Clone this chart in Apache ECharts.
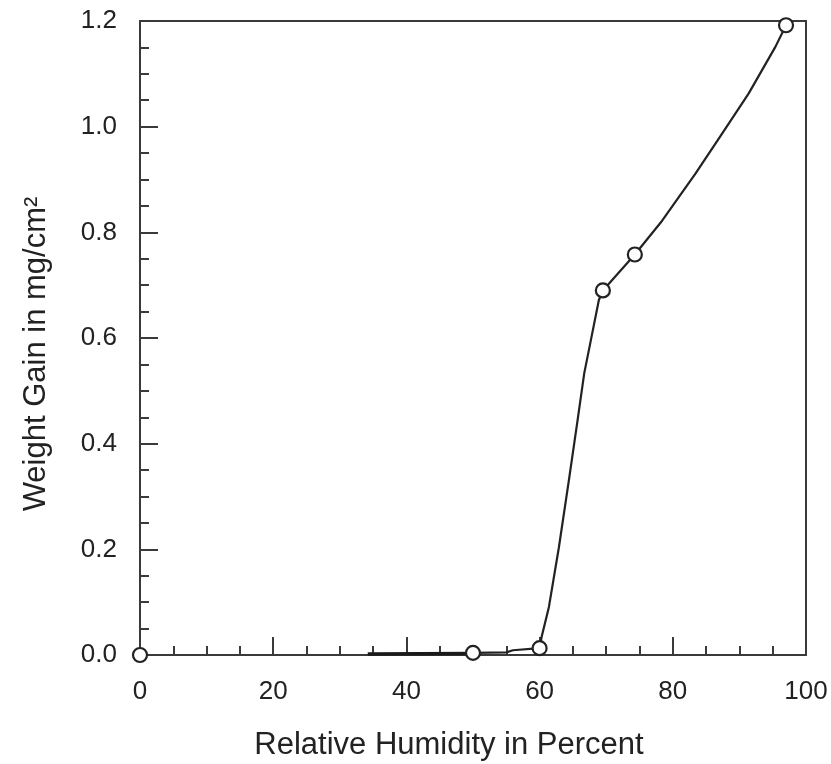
<!DOCTYPE html>
<html>
<head>
<meta charset="utf-8">
<script src="https://cdn.jsdelivr.net/npm/echarts@6/dist/echarts.min.js"></script>
<style>
html,body{margin:0;padding:0;background:#fff;}
#chart{width:831px;height:764px;}
</style>
</head>
<body>
<div id="chart"></div>
<script>
// Measured points (open circles)
const measuredX = [0, 50, 60, 69.5, 74.3, 97];
const measuredY = [0, 0.004, 0.013, 0.69, 0.758, 1.192];

const curveX = [50, 55, 56, 60, 60.3, 61.4, 62.9, 64.4, 65.7, 66.7, 67.7, 68.9, 69.5, 74.3, 78.4, 83.4, 87.4, 91.4, 95.4, 97];
const curveY = [0.004, 0.005, 0.009, 0.013, 0.034, 0.091, 0.204, 0.331, 0.444, 0.533, 0.596, 0.672, 0.69, 0.758, 0.822, 0.911, 0.987, 1.063, 1.151, 1.192];

// Heavy segment along the baseline
const baseX = [34.2, 50];
const baseY = [0.002, 0.003];

// Axis tick values
const xTicks = [0, 20, 40, 60, 80, 100];
const yTicks = [0.0, 0.2, 0.4, 0.6, 0.8, 1.0, 1.2];

const xTitle = 'Relative Humidity in Percent';
const yTitle = 'Weight Gain in mg/cm²';

const zip = (a, b) => a.map((v, i) => [v, b[i]]);

const axisColor = '#3a3a3a';
const textColor = '#222';
const font = 'Liberation Sans, Arial, Helvetica, sans-serif';

const chart = echarts.init(document.getElementById('chart'), null, {renderer: 'canvas'});
chart.setOption({
  animation: false,
  backgroundColor: '#fff',
  grid: {
    left: 140, right: 25, top: 21, bottom: 109,
    containLabel: false,
    outerBoundsMode: 'none',
    show: true, borderColor: axisColor, borderWidth: 2, backgroundColor: 'transparent'
  },
  xAxis: {
    type: 'value',
    min: xTicks[0], max: xTicks[xTicks.length - 1], interval: xTicks[1] - xTicks[0],
    name: xTitle,
    nameLocation: 'middle',
    nameGap: 75,
    nameTextStyle: {fontFamily: font, fontSize: 31, color: textColor, padding: [0, 48, 0, 0]},
    axisLine: {show: true, onZero: false, lineStyle: {color: axisColor, width: 2}},
    axisTick: {show: true, inside: true, length: 18, lineStyle: {color: axisColor, width: 2}},
    minorTick: {show: true, splitNumber: 4, length: 9, lineStyle: {color: axisColor, width: 2}},
    splitLine: {show: false},
    minorSplitLine: {show: false},
    axisLabel: {fontFamily: font, fontSize: 26, color: textColor, margin: 24}
  },
  yAxis: {
    type: 'value',
    min: yTicks[0], max: yTicks[yTicks.length - 1], interval: 0.2,
    name: yTitle,
    nameLocation: 'middle',
    nameGap: 88,
    nameRotate: 90,
    nameTextStyle: {fontFamily: font, fontSize: 31, color: textColor, padding: [0, 32, 0, 0]},
    axisLine: {show: true, onZero: false, lineStyle: {color: axisColor, width: 2}},
    axisTick: {show: true, inside: true, length: 18, lineStyle: {color: axisColor, width: 2}},
    minorTick: {show: true, splitNumber: 4, length: 9, lineStyle: {color: axisColor, width: 2}},
    splitLine: {show: false},
    minorSplitLine: {show: false},
    axisLabel: {fontFamily: font, fontSize: 26, color: textColor, margin: 23,
      formatter: v => v.toFixed(1)}
  },
  series: [
    {
      type: 'line',
      data: zip(baseX, baseY),
      symbol: 'none',
      lineStyle: {color: '#1a1a1a', width: 3.5},
      z: 3
    },
    {
      type: 'line',
      data: zip(curveX, curveY),
      symbol: 'none',
      smooth: false,
      lineStyle: {color: '#222', width: 2.2},
      z: 3
    },
    {
      type: 'scatter',
      data: zip(measuredX, measuredY),
      symbol: 'circle',
      symbolSize: 14,
      itemStyle: {color: '#fff', borderColor: '#222', borderWidth: 2.2, opacity: 1},
      clip: false,
      z: 5
    }
  ]
});
</script>
</body>
</html>
